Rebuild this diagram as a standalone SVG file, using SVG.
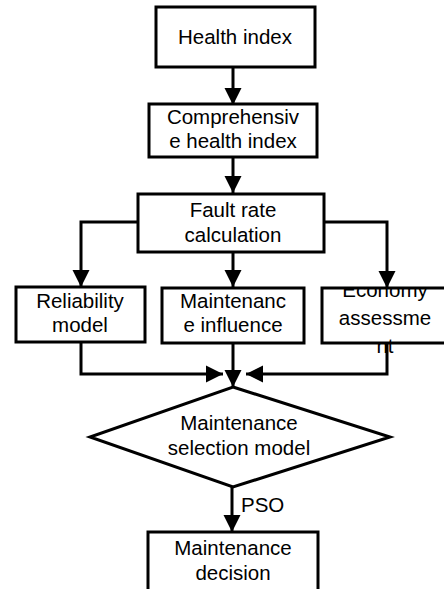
<svg xmlns="http://www.w3.org/2000/svg" width="444" height="589" viewBox="0 0 444 589">
<style>
.box{fill:#fff;stroke:#000;stroke-width:3}
.t{font-family:"Liberation Sans",Arial,sans-serif;font-size:20.5px;fill:#000;text-anchor:middle}
.c{fill:none;stroke:#000;stroke-width:3}
</style>
<defs>
<marker id="ah" markerUnits="userSpaceOnUse" markerWidth="18" markerHeight="18" refX="17" refY="9" orient="auto" viewBox="0 0 18 18">
<path d="M0,0.5 L17,9 L0,17.5 z" fill="#000"/>
</marker>
<clipPath id="ecoClip"><rect x="300" y="288" width="160" height="120"/></clipPath>
</defs>
<g id="connectors">
<path class="c" d="M233,67 V105" marker-end="url(#ah)"/>
<path class="c" d="M233,157 V193" marker-end="url(#ah)"/>
<path class="c" d="M138,222 H81 V287" marker-end="url(#ah)"/>
<path class="c" d="M233,252 V287" marker-end="url(#ah)"/>
<path class="c" d="M324,222 H387 V288" marker-end="url(#ah)"/>
<path class="c" d="M81,342 V374 H223" marker-end="url(#ah)"/>
<path class="c" d="M233,343 V387" marker-end="url(#ah)"/>
<path class="c" d="M387,343 V374 H246" marker-end="url(#ah)"/>
<path class="c" d="M232,487 V532" marker-end="url(#ah)"/>
<text class="t" x="241" y="512" style="text-anchor:start">PSO</text>
</g>
<g id="health-index">
<rect class="box" x="156" y="7" width="159" height="60"/>
<text class="t" x="235" y="44">Health index</text>
</g>
<g id="comprehensive">
<rect class="box" x="149" y="104" width="168" height="53"/>
<text class="t" x="233" y="124">Comprehensiv</text>
<text class="t" x="233" y="148">e health index</text>
</g>
<g id="fault-rate">
<rect class="box" x="138" y="194" width="186" height="58"/>
<text class="t" x="233" y="217">Fault rate</text>
<text class="t" x="233" y="242">calculation</text>
</g>
<g id="reliability">
<rect class="box" x="16" y="287" width="129" height="55"/>
<text class="t" x="80" y="308">Reliability</text>
<text class="t" x="80" y="332">model</text>
</g>
<g id="maint-influence">
<rect class="box" x="162" y="288" width="142" height="55"/>
<text class="t" x="233" y="308">Maintenanc</text>
<text class="t" x="233" y="332">e influence</text>
</g>
<g id="economy">
<rect class="box" x="322" y="288" width="130" height="55"/>
<g clip-path="url(#ecoClip)">
<text class="t" x="385" y="297">Economy</text>
<text class="t" x="385" y="325">assessme</text>
<text class="t" x="385" y="353">nt</text>
</g>
</g>
<g id="selection-model">
<polygon class="box" points="233,387 390,437 233,487 90,437"/>
<text class="t" x="239" y="430">Maintenance</text>
<text class="t" x="239" y="455">selection model</text>
</g>
<g id="decision">
<rect class="box" x="148" y="532" width="170" height="70"/>
<text class="t" x="233" y="555">Maintenance</text>
<text class="t" x="233" y="580">decision</text>
</g>
</svg>
